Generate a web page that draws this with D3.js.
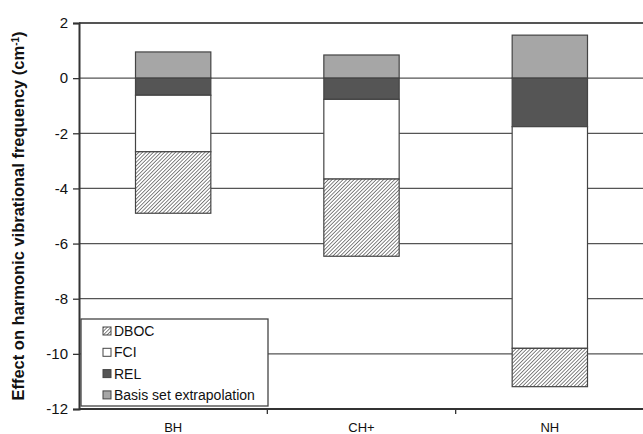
<!DOCTYPE html>
<html>
<head>
<meta charset="utf-8">
<script src="https://cdn.jsdelivr.net/npm/d3@7"></script>
<style>
  body { margin: 0; background: #fff; }
  text { font-family: "Liberation Sans", Arial, sans-serif; }
</style>
</head>
<body>
<script>
// categories and segment values (cm-1)
var categories = ["BH", "CH+", "NH"];
var basisSet = [0.95, 0.84, 1.56];
var rel = [-0.62, -0.77, -1.76];
var fci = [-2.05, -2.89, -8.04];
var dboc = [-2.23, -2.80, -1.39];
var yTicks = [2, 0, -2, -4, -6, -8, -10, -12];

var seriesNames = ["DBOC", "FCI", "REL", "Basis set extrapolation"];

var width = 643, height = 434;
var margin = { top: 23, bottom: 25, left: 79, right: 0 };

var svg = d3.select("body")
    .append("svg")
    .attr("width", width)
    .attr("height", height);

// diagonal hatch for DBOC
var hs = 2.6;
var pat = svg.append("defs").append("pattern")
    .attr("id", "hatch")
    .attr("patternUnits", "userSpaceOnUse")
    .attr("width", hs)
    .attr("height", hs)
    .attr("patternTransform", "rotate(45)");
pat.append("rect").attr("width", hs).attr("height", hs).attr("fill", "#fff");
pat.append("line")
    .attr("x1", 0).attr("y1", 0).attr("x2", 0).attr("y2", hs)
    .attr("stroke", "#333").attr("stroke-width", 1.2);

var fills = {
    "DBOC": "url(#hatch)",
    "FCI": "#ffffff",
    "REL": "#555555",
    "Basis set extrapolation": "#a6a6a6"
};

var x = d3.scaleBand()
    .domain(categories)
    .range([margin.left, width + 1])
    .paddingInner(0.6)
    .paddingOuter(0.3);

var y = d3.scaleLinear()
    .domain([-12, 2])
    .range([height - margin.bottom, margin.top]);

// grid lines
svg.append("g")
    .selectAll("line")
    .data(yTicks)
    .enter().append("line")
    .attr("x1", margin.left)
    .attr("x2", width)
    .attr("y1", function (d) { return y(d); })
    .attr("y2", function (d) { return y(d); })
    .attr("stroke", "#555")
    .attr("stroke-width", function (d) { return d == 2 ? 2 : 1.3; });

// stacked segments: basis set above 0, the rest stacked downward
var segs = [];
categories.forEach(function (c, i) {
    segs.push({ cat: c, name: "Basis set extrapolation", y0: 0, y1: basisSet[i] });
    var cur = 0;
    [["REL", rel[i]], ["FCI", fci[i]], ["DBOC", dboc[i]]].forEach(function (p) {
        segs.push({ cat: c, name: p[0], y0: cur, y1: cur + p[1] });
        cur += p[1];
    });
});

svg.append("g")
    .selectAll("rect")
    .data(segs)
    .enter().append("rect")
    .attr("x", function (d) { return x(d.cat); })
    .attr("width", x.bandwidth())
    .attr("y", function (d) { return y(Math.max(d.y0, d.y1)); })
    .attr("height", function (d) { return Math.abs(y(d.y0) - y(d.y1)); })
    .attr("fill", function (d) { return fills[d.name]; })
    .attr("stroke", "#444")
    .attr("stroke-width", 1.2);

// y axis
var yAxis = svg.append("g")
    .attr("transform", "translate(" + margin.left + ",0)")
    .call(d3.axisLeft(y).tickValues(yTicks).tickSize(6).tickPadding(5));
yAxis.select(".domain").attr("stroke", "#333").attr("stroke-width", 2);
yAxis.selectAll(".tick line").attr("stroke", "#333").attr("stroke-width", 1.3);
yAxis.selectAll("text").attr("font-size", 15).attr("fill", "#111")
    .attr("font-family", "Liberation Sans, Arial, sans-serif")
    .text(function (d) { return d < 0 ? "-" + Math.abs(d) : d; });

// x axis
var xAxis = svg.append("g")
    .attr("transform", "translate(0," + y(-12) + ")");
xAxis.append("line")
    .attr("x1", margin.left).attr("x2", width)
    .attr("stroke", "#333").attr("stroke-width", 2);
var catW = (width + 1 - margin.left) / categories.length;
xAxis.selectAll(".xt")
    .data(categories)
    .enter().append("line")
    .attr("x1", function (d, i) { return margin.left + catW * (i + 1); })
    .attr("x2", function (d, i) { return margin.left + catW * (i + 1); })
    .attr("y1", 0).attr("y2", 5)
    .attr("stroke", "#333").attr("stroke-width", 1.3);
xAxis.selectAll(".xl")
    .data(categories)
    .enter().append("text")
    .attr("x", function (d) { return x(d) + x.bandwidth() / 2; })
    .attr("y", 23)
    .attr("text-anchor", "middle")
    .attr("font-size", 13)
    .attr("fill", "#111")
    .text(function (d) { return d; });

// y title
var title = svg.append("text")
    .attr("transform", "translate(24," + y(-5) + ") rotate(-90)")
    .attr("text-anchor", "middle")
    .attr("font-size", 16.5)
    .attr("font-weight", "bold")
    .attr("fill", "#111");
title.append("tspan").text("Effect on harmonic vibrational frequency (cm");
title.append("tspan").attr("baseline-shift", "super").attr("font-size", 10).text("-1");
title.append("tspan").text(")");

// legend
var legend = svg.append("g").attr("transform", "translate(81,319)");
legend.append("rect")
    .attr("width", 187).attr("height", 87)
    .attr("fill", "#fff").attr("stroke", "#444").attr("stroke-width", 1.3);
var li = legend.selectAll(".li")
    .data(seriesNames)
    .enter().append("g")
    .attr("transform", function (d, i) { return "translate(22," + (12 + i * 21.3) + ")"; });
li.append("rect")
    .attr("width", 8).attr("height", 8).attr("y", -4)
    .attr("fill", function (d) { return fills[d]; })
    .attr("stroke", "#444").attr("stroke-width", 1);
li.append("text")
    .attr("x", 11).attr("y", 5)
    .attr("font-size", 14)
    .attr("fill", "#111")
    .text(function (d) { return d; });
</script>
</body>
</html>
